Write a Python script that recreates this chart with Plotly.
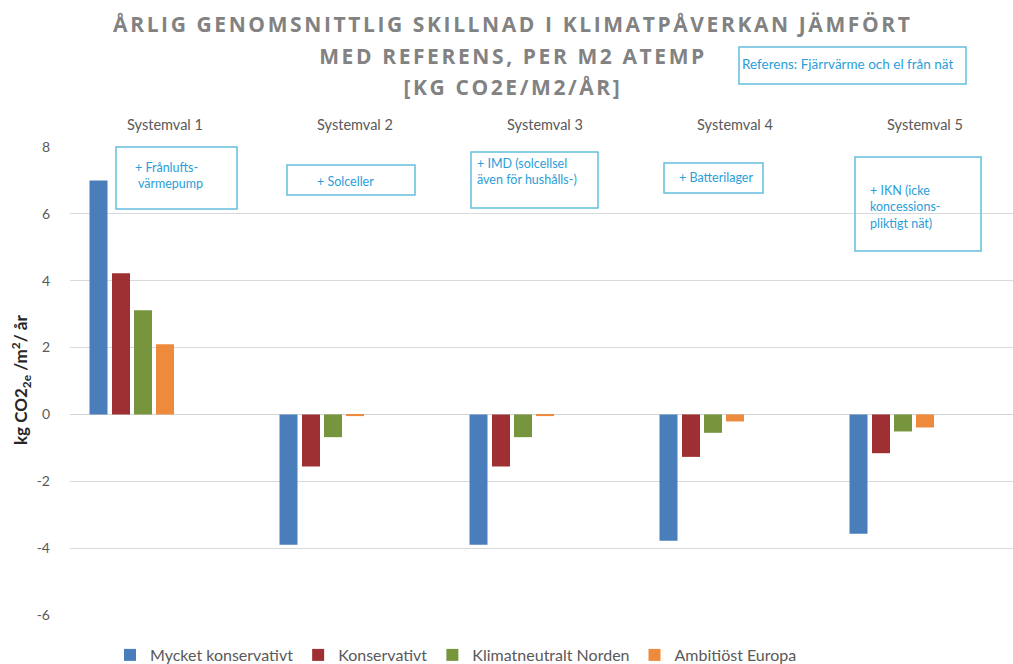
import json
import plotly.graph_objects as go

# ---- data -------------------------------------------------------------
categories = ["Systemval 1", "Systemval 2", "Systemval 3", "Systemval 4", "Systemval 5"]
series_names = ["Mycket konservativt", "Konservativt", "Klimatneutralt Norden", "Ambitiöst Europa"]
mycket_konservativt = [7.0, -3.9, -3.9, -3.78, -3.57]
konservativt = [4.22, -1.56, -1.56, -1.27, -1.16]
klimatneutralt_norden = [3.12, -0.68, -0.68, -0.55, -0.51]
ambitiost_europa = [2.1, -0.05, -0.05, -0.21, -0.39]
y_ticks = [-6, -4, -2, 0, 2, 4, 6, 8]
y_tick_labels = ["-6", "-4", "-2", "0", "2", "4", "6", "8"]

series_values = [mycket_konservativt, konservativt, klimatneutralt_norden, ambitiost_europa]
colors = ["#4A7EBB", "#9E3033", "#76953D", "#EE8A3C"]

# ---- layout geometry (pixels) -----------------------------------------
W, H = 1013, 664
ML, MR, MT, MB = 70, 0, 147, 49
PW, PH = W - ML - MR, H - MT - MB
CAT_PX = 190.0  # width of one category slot


def px_x(px):
    return (px - ML) / PW


def px_y(py):
    return (H - MB - py) / PH


bar_w = 18 / CAT_PX
offsets = [-75.5 / CAT_PX, -53 / CAT_PX, -31 / CAT_PX, -9 / CAT_PX]

fig = go.Figure()
for name, vals, col, off in zip(series_names, series_values, colors, offsets):
    fig.add_trace(go.Bar(
        x=categories, y=vals, name=name,
        marker=dict(color=col, line=dict(width=0)),
        width=bar_w, offset=off,
    ))

TXT = "#595959"
BLUE_TXT = "#2A9ED8"
BOX = "#63BEDC"
FONT = "Lato"

annotations = []
shapes = []

# title, three centred lines
title_lines = [
    ("ÅRLIG GENOMSNITTLIG SKILLNAD I KLIMATPÅVERKAN JÄMFÖRT", 24),
    ("MED REFERENS, PER M2 ATEMP", 56),
    ("[KG CO2E/M2/ÅR]", 87),
]
for txt, yc in title_lines:
    annotations.append(dict(
        text=txt, xref="paper", yref="paper", x=px_x(513), y=px_y(yc),
        xanchor="center", yanchor="middle", showarrow=False,
        font=dict(family="Open Sans", size=21, color="#828282", weight="bold"),
    ))

# y-axis title
annotations.append(dict(
    text="kg CO2<sub>2e</sub> /m<sup>2</sup>/ år",
    xref="paper", yref="paper", x=px_x(21), y=px_y(380),
    xanchor="center", yanchor="middle", textangle=-90, showarrow=False,
    font=dict(family=FONT, size=17, color="#262626", weight="bold"),
))

# text boxes: (text, box x0, y0, x1, y1, text left, text top, font size)
boxes = [
    ("+ Frånlufts-<br> värmepump", 116, 147, 237, 209, 133, 158, 12.5),
    ("+ Solceller", 287, 165, 415, 195, 315, 172, 12.5),
    ("+ IMD (solcellsel<br>även för hushålls-)", 471, 152, 598, 208, 475, 154, 12.5),
    ("+ Batterilager", 664, 163, 763, 193, 677, 168, 12.5),
    ("+ IKN (icke<br>koncessions-<br>pliktigt nät)", 855, 157, 981, 251, 868, 181, 12.5),
    ("Referens: Fjärrvärme och el från nät", 739, 47, 966, 84, 740, 54, 13.5),
]
for txt, x0, y0, x1, y1, tx, ty, fs in boxes:
    shapes.append(dict(
        type="rect", xref="paper", yref="paper",
        x0=px_x(x0), x1=px_x(x1), y0=px_y(y1), y1=px_y(y0),
        line=dict(color=BOX, width=1.5), fillcolor="rgba(0,0,0,0)",
    ))
    annotations.append(dict(
        text=txt, xref="paper", yref="paper", x=px_x(tx), y=px_y(ty),
        xanchor="left", yanchor="top", align="left", showarrow=False,
        font=dict(family=FONT, size=fs, color=BLUE_TXT),
    ))

fig.update_layout(
    width=W, height=H,
    margin=dict(l=ML, r=MR, t=MT, b=MB, pad=0, autoexpand=False),
    paper_bgcolor="white", plot_bgcolor="white",
    barmode="overlay",
    showlegend=True,
    legend=dict(
        orientation="h", xref="paper", yref="paper",
        x=px_x(110), y=px_y(655), xanchor="left", yanchor="middle",
        font=dict(family=FONT, size=16, color=TXT),
        itemwidth=30, bgcolor="rgba(0,0,0,0)",
    ),
    annotations=annotations,
    shapes=shapes,
    xaxis=dict(
        type="category", side="top",
        range=[-0.5, -0.5 + PW / CAT_PX],
        showgrid=False, showline=False, zeroline=False, ticks="",
        tickfont=dict(family=FONT, size=14.5, color=TXT),
        ticklabelstandoff=13,
    ),
    yaxis=dict(
        range=[-6, 8], tickvals=y_ticks, ticktext=y_tick_labels,
        showgrid=True, gridcolor="#D9D9D9", gridwidth=1,
        zeroline=True, zerolinecolor="#D4D4D4", zerolinewidth=1,
        showline=False, ticks="",
        tickfont=dict(family=FONT, size=14, color=TXT),
        ticklabelstandoff=19,
    ),
    font=dict(family=FONT),
)

# widen the title lettering (tracked capitals)
title_texts = json.dumps([t for t, _ in title_lines])
post = (
    "var gd = document.getElementById('{plot_id}');"
    "var lines = " + title_texts + ";"
    "gd.querySelectorAll('.annotation-text').forEach(function (t) {"
    "  if (lines.indexOf(t.textContent) >= 0) { t.setAttribute('letter-spacing', '2.6px'); }"
    "});"
)

fig.write_html("out.html", post_script=post)
